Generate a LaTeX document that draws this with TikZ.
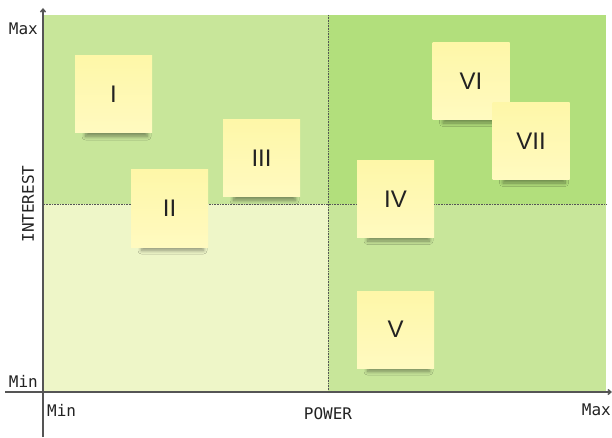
\documentclass[tikz,border=0pt]{standalone}
\usepackage{fontspec}
\setmainfont{Liberation Sans}
\newfontfamily\axisfont{DejaVu Sans Mono}
\usetikzlibrary{shadows.blur,arrows.meta}
\definecolor{qlight}{HTML}{C8E69A}
\definecolor{qdark}{HTML}{B2DF7C}
\definecolor{qpale}{HTML}{EEF6C8}
\definecolor{notetop}{HTML}{FEF7A8}
\definecolor{notebot}{HTML}{FFFAC0}
\definecolor{axisgray}{HTML}{555555}
\definecolor{txt}{HTML}{222222}
\tikzset{
  note/.style={minimum width=77pt, minimum height=77pt, inner sep=0pt,
    top color=notetop, bottom color=notebot, draw=none,
    font=\fontsize{24}{24}\selectfont, text=txt},
  noteshadow/.style={blur shadow={shadow xshift=0pt, shadow yshift=0pt, shadow opacity=40, shadow blur radius=3.5pt, shadow blur steps=10}},
  axislabel/.style={font=\axisfont\fontsize{16}{16}\selectfont, text=txt, inner sep=0pt},
  divider/.style={axisgray, densely dotted, line width=0.6pt},
  axisline/.style={axisgray, line width=1.4pt, -{Straight Barb[length=3pt,width=5pt]}}
}
\newcommand\sticky[4]{%
  \begin{scope}[shift={(#2,#3)}]
    \path[noteshadow] (-28,33) rectangle (34,42);
  \end{scope}
  \node[note] (#1) at (#2,#3) {#4};
}
\begin{document}
\begin{tikzpicture}[x=1pt,y=-1pt]
\useasboundingbox (0,0) rectangle (612,438);
\fill[white] (0,0) rectangle (612,438);
% quadrants
\fill[qlight] (44,15) rectangle (328,204);
\fill[qdark] (328,15) rectangle (606,204);
\fill[qpale] (44,204) rectangle (328,392);
\fill[qlight] (328,204) rectangle (606,392);
\draw[divider] (328,15) -- (328,392);
\draw[divider] (44,204) -- (606,204);
% axes
\coordinate (yb) at (43,437);
\coordinate (yt) at (43,8);
\coordinate (xl) at (5,392);
\coordinate (xr) at (612,392);
\draw[axisline] (yb) -- (yt);
\draw[axisline] (xl) -- (xr);
% axis labels
\node[axislabel, anchor=east] (ymax) at (38,29) {Max};
\node[axislabel, anchor=east] (ymin) at (38,381) {Min};
\node[axislabel, anchor=west] (xmin) at (47,410) {Min};
\node[axislabel, anchor=east] (xmax) at (611,410) {Max};
\node[axislabel] (power) at (328,414) {POWER};
\node[axislabel, rotate=90] (interest) at (28,204) {INTEREST};
% sticky notes
\sticky{n1}{113.5}{94.5}{I}
\sticky{n2}{169.5}{208.5}{II}
\sticky{n3}{261.5}{158.5}{III}
\sticky{n4}{395.5}{199}{IV}
\sticky{n5}{395.5}{329.5}{V}
\sticky{n6}{471}{81}{VI}
\sticky{n7}{531}{141}{VII}
\end{tikzpicture}
\end{document}
